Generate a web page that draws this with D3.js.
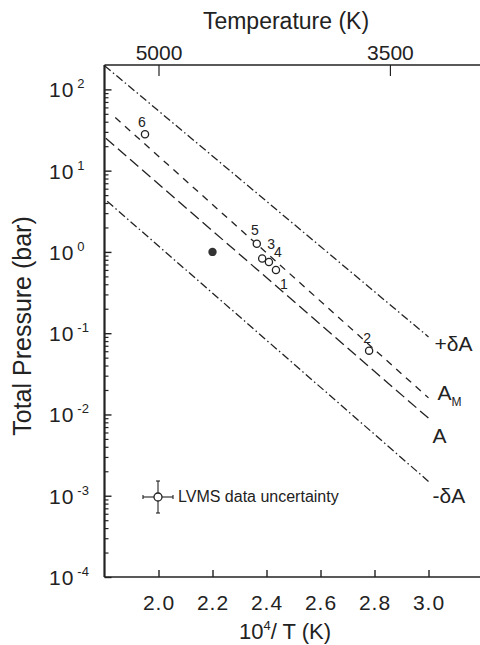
<!DOCTYPE html>
<html>
<head>
<meta charset="utf-8">
<script src="https://cdn.jsdelivr.net/npm/d3@7"></script>
<style>
  html, body { margin: 0; padding: 0; background: #fff; }
  svg { display: block; font-family: "Liberation Sans", Arial, Helvetica, sans-serif; }
</style>
</head>
<body>
<svg id="chart" width="480" height="645"></svg>
<script>
// ---------- data ----------
const xTicks = [2.0, 2.2, 2.4, 2.6, 2.8, 3.0];          // 10^4 / T
const tempTicks = [5000, 3500];                        // top axis (K)
const yDecades = [-4, -3, -2, -1, 0, 1, 2];            // exponents of 10

const pointIds = ["1", "2", "3", "4", "5", "6"];
const pointX = [2.435, 2.78, 2.384, 2.409, 2.364, 1.95];
const pointP = [0.60, 0.061, 0.83, 0.75, 1.26, 28];

const filledX = [2.2];
const filledP = [1.0];

const lineNames = ["+δA", "A_M", "A", "-δA"];
const lineX0 = [1.80, 1.84, 1.805, 1.81];
const lineP0 = [196, 45, 25, 4.2];
const lineX1 = [3.0, 3.0, 3.0, 3.0];
const lineP1 = [0.09, 0.016, 0.009, 0.0015];

const legendText = "LVMS data uncertainty";

// ---------- layout / style ----------
const ink = "#222";
const dashes = ["8,3,1.5,3", "7,6", "11,5", "8,3,1.5,3"];
const lineLabelOffsets = [[6, 14], [9, 2], [4, 25], [4, 22]];
const pointLabelOffsets = {"1": [8, 14], "2": [-2, -13], "3": [9, -14], "4": [9, -10], "5": [-2, -14], "6": [-3, -12.5]};

const svg = d3.select("#chart");
const x = d3.scaleLinear().domain([1.8, 3.2]).range([104.5, 482.5]);
const y = d3.scaleLog().domain([1e-4, Math.pow(10, 2.3)]).range([577, 65]);

const X0 = x(1.8), YB = y(1e-4), YT = y(Math.pow(10, 2.3));

// ---------- axes ----------
const minorTicks = [];
yDecades.forEach(k => {
  for (let m = 2; m <= 9; m++) {
    const v = m * Math.pow(10, k);
    if (v <= y.domain()[1]) minorTicks.push(v);
  }
});
const majorTicks = yDecades.map(k => Math.pow(10, k));

svg.append("g").attr("transform", `translate(${X0},0)`)
  .call(d3.axisRight(y).tickValues(minorTicks).tickSize(4).tickFormat(""))
  .call(g => g.select(".domain").remove())
  .call(g => g.selectAll("line").attr("stroke", ink).attr("stroke-width", 1.2));
svg.append("g").attr("transform", `translate(${X0},0)`)
  .call(d3.axisRight(y).tickValues(majorTicks).tickSize(7).tickFormat(""))
  .call(g => g.select(".domain").remove())
  .call(g => g.selectAll("line").attr("stroke", ink).attr("stroke-width", 1.4));

// left labels 10^k
const yl = svg.append("g").attr("fill", ink);
yDecades.forEach(k => {
  const t = yl.append("text")
    .attr("x", 49).attr("y", y(Math.pow(10, k)) + 8)
    .attr("font-size", 21).attr("letter-spacing", 1);
  t.append("tspan").text("10");
  t.append("tspan").attr("dx", 3).attr("dy", -9).attr("font-size", 13).attr("letter-spacing", 0)
    .text(k < 0 ? "-" + Math.abs(k) : String(k));
});

// bottom axis
svg.append("g").attr("transform", `translate(0,${YB})`)
  .call(d3.axisBottom(x).tickValues(xTicks).tickSize(-7).tickPadding(18)
        .tickFormat(d3.format(".1f")))
  .call(g => g.select(".domain").remove())
  .call(g => g.selectAll("line").attr("stroke", ink).attr("stroke-width", 1.4))
  .call(g => g.selectAll("text").attr("font-size", 21).attr("fill", ink)
        .attr("letter-spacing", 1).attr("font-family", null));

// top axis (temperature)
svg.append("g").attr("transform", `translate(0,${YT})`)
  .call(d3.axisTop(x).tickValues(tempTicks.map(t => 1e4 / t)).tickSize(-11).tickPadding(5)
        .tickFormat((d, i) => String(tempTicks[i])))
  .call(g => g.select(".domain").remove())
  .call(g => g.selectAll("line").attr("stroke", ink).attr("stroke-width", 1.2))
  .call(g => g.selectAll("text").attr("font-size", 21).attr("fill", ink)
        .attr("font-family", null));

// axis lines
svg.append("line").attr("x1", X0).attr("x2", X0).attr("y1", YT).attr("y2", YB)
  .attr("stroke", ink).attr("stroke-width", 2.2);
svg.append("line").attr("x1", X0).attr("x2", 480).attr("y1", YB).attr("y2", YB)
  .attr("stroke", ink).attr("stroke-width", 1.6);
svg.append("line").attr("x1", X0).attr("x2", 480).attr("y1", YT).attr("y2", YT)
  .attr("stroke", ink).attr("stroke-width", 1.4);

// axis titles
svg.append("text").attr("x", 286).attr("y", 29).attr("text-anchor", "middle")
  .attr("font-size", 23).attr("fill", ink).text("Temperature (K)");

const bt = svg.append("text").attr("x", 285).attr("y", 639).attr("text-anchor", "middle")
  .attr("font-size", 22).attr("fill", ink);
bt.append("tspan").text("10");
bt.append("tspan").attr("dy", -9).attr("font-size", 13).text("4");
bt.append("tspan").attr("dy", 9).text("/ T (K)");

svg.append("text").attr("transform", "translate(31,326) rotate(-90)")
  .attr("text-anchor", "middle").attr("font-size", 25).attr("fill", ink)
  .text("Total Pressure (bar)");

// ---------- fit lines ----------
const lineGen = d3.line().x(d => x(d[0])).y(d => y(d[1]));
lineNames.forEach((name, i) => {
  svg.append("path")
    .attr("d", lineGen([[lineX0[i], lineP0[i]], [lineX1[i], lineP1[i]]]))
    .attr("fill", "none").attr("stroke", ink).attr("stroke-width", 1.3)
    .attr("stroke-dasharray", dashes[i]);
  const lx = x(lineX1[i]) + lineLabelOffsets[i][0];
  const ly = y(lineP1[i]) + lineLabelOffsets[i][1];
  const t = svg.append("text").attr("x", lx).attr("y", ly).attr("font-size", 21).attr("fill", ink);
  if (name === "A_M") {
    t.append("tspan").text("A");
    t.append("tspan").attr("dy", 6).attr("font-size", 12).text("M");
  } else {
    t.text(name);
  }
});

// ---------- data points ----------
pointIds.forEach((id, i) => {
  const cx = x(pointX[i]), cy = y(pointP[i]);
  svg.append("circle").attr("cx", cx).attr("cy", cy).attr("r", 3.6)
    .attr("fill", "#fff").attr("stroke", ink).attr("stroke-width", 1.3);
  const o = pointLabelOffsets[id];
  svg.append("text").attr("x", cx + o[0]).attr("y", cy + o[1] + 5)
    .attr("text-anchor", "middle").attr("font-size", 14).attr("fill", ink).text(id);
});
filledX.forEach((fx, i) => {
  svg.append("circle").attr("cx", x(fx)).attr("cy", y(filledP[i])).attr("r", 4.2).attr("fill", "#333");
});

// ---------- legend ----------
const lg = svg.append("g").attr("transform", "translate(158,497)").attr("stroke", ink).attr("stroke-width", 1.1);
lg.append("line").attr("x1", -15).attr("x2", 15).attr("y1", 0).attr("y2", 0);
lg.append("line").attr("x1", -15).attr("x2", -15).attr("y1", -2).attr("y2", 2);
lg.append("line").attr("x1", 15).attr("x2", 15).attr("y1", -2).attr("y2", 2);
lg.append("line").attr("x1", 0).attr("x2", 0).attr("y1", -16).attr("y2", 16);
lg.append("line").attr("x1", -2).attr("x2", 2).attr("y1", -16).attr("y2", -16);
lg.append("line").attr("x1", -2).attr("x2", 2).attr("y1", 16).attr("y2", 16);
lg.append("circle").attr("r", 4).attr("fill", "#fff").attr("stroke-width", 1.3);
svg.append("text").attr("x", 178).attr("y", 502).attr("font-size", 16).attr("fill", ink).text(legendText);
</script>
</body>
</html>
